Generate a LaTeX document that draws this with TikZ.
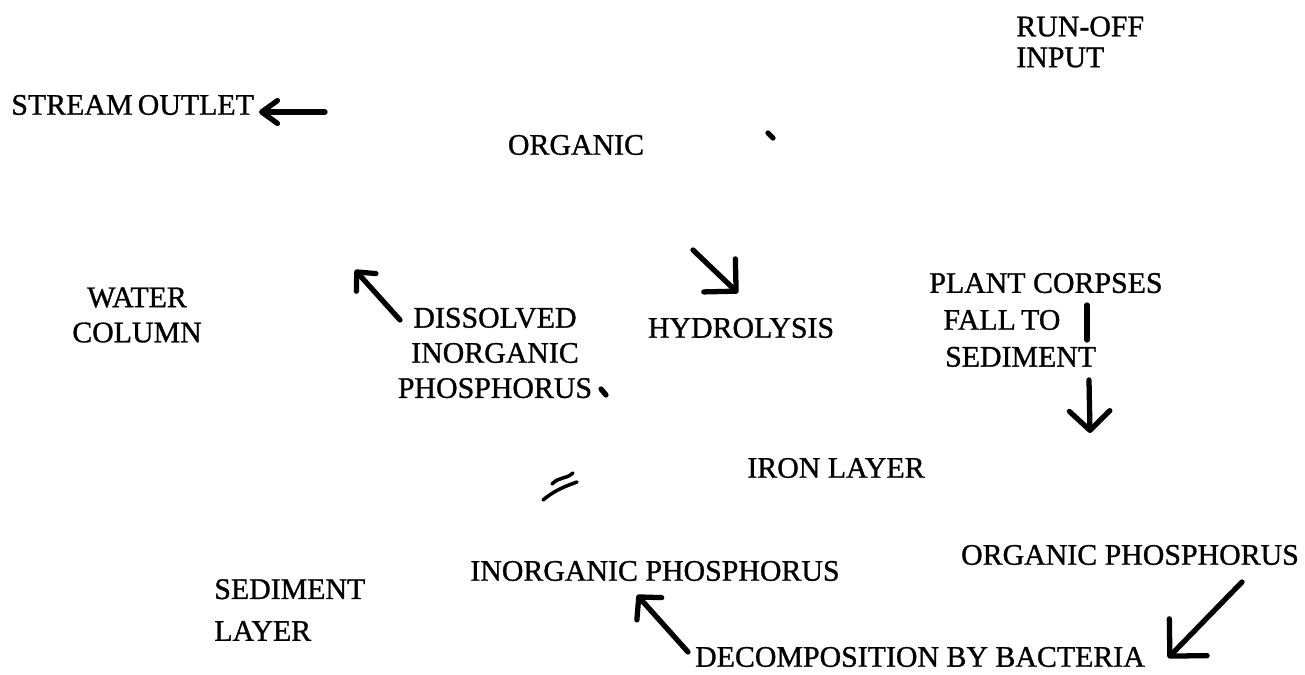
\documentclass[tikz,border=0pt]{standalone}
\usepackage{fontspec}
\setmainfont[FakeBold=1]{Liberation Serif}
\usetikzlibrary{arrows.meta}

\begin{document}
\begin{tikzpicture}[x=0.02cm,y=-0.02cm,
    lbl/.style={font=\fontsize{17}{20}\selectfont,inner sep=0pt},
    arr/.style={line width=3pt,line cap=round,line join=round},
    barb/.style 2 args={-{Straight Barb[length=#1,width=#2,round]}},
    scribble/.style={line width=2pt,line cap=round}]
  \useasboundingbox (0,0) rectangle (1305,675);
  % labels
  \node[lbl,font=\fontsize{17}{17.6}\selectfont,align=left,anchor=west] (runoff) at (1016,42) {RUN-OFF\\INPUT};
  \node[lbl,anchor=west] (outlet) at (11,105) {STREAM\hspace{3pt}OUTLET};
  \node[lbl] (organic) at (576,145) {ORGANIC};
  \node[lbl,align=center] (water) at (137,315) {WATER\\COLUMN};
  \node[lbl,align=center] (dip) at (495,353) {DISSOLVED\\INORGANIC\\PHOSPHORUS};
  \node[lbl] (hydro) at (741,328) {HYDROLYSIS};
  \node[lbl,font=\fontsize{17}{21}\selectfont,align=left,anchor=west] (plant) at (929,320) {PLANT CORPSES\\\hspace*{8pt}FALL\hspace{3pt}TO\\\hspace*{9pt}SEDIMENT};
  \node[lbl] (iron) at (836,468) {IRON LAYER};
  \node[lbl] (orgphos) at (1130,555) {ORGANIC PHOSPHORUS};
  \node[lbl] (inorgphos) at (655,571) {INORGANIC PHOSPHORUS};
  \node[lbl,font=\fontsize{17}{23.8}\selectfont,align=left,anchor=west] (sediment) at (214,610) {SEDIMENT\\LAYER};
  \node[lbl] (decomp) at (920,657) {DECOMPOSITION BY BACTERIA};
  % arrow ends
  \coordinate (outlet-a) at (325,112);
  \coordinate (outlet-b) at (259,112);
  \coordinate (hydro-a) at (693,250);
  \coordinate (hydro-b) at (738,293);
  \coordinate (dip-a) at (400,320);
  \coordinate (dip-b) at (355,270);
  \coordinate (bar-a) at (1087,305);
  \coordinate (bar-b) at (1087,340);
  \coordinate (fall-a) at (1089,380);
  \coordinate (fall-b) at (1090,433);
  \coordinate (decomp-a) at (688,652);
  \coordinate (decomp-b) at (637,595);
  \coordinate (orgphos-a) at (1242,582);
  \coordinate (orgphos-b) at (1168,658);
  % arrows
  \draw[arr,barb={9pt}{13pt}] (outlet-a) -- (outlet-b);
  \draw[arr,barb={13pt}{26pt}] (hydro-a) -- (hydro-b);
  \draw[arr,barb={8pt}{15pt}] (dip-a) -- (dip-b);
  \draw[arr] (bar-a) -- (bar-b);
  \draw[arr,barb={11pt}{23pt}] (fall-a) -- (fall-b);
  \draw[arr,barb={9pt}{19pt}] (decomp-a) -- (decomp-b);
  \draw[arr,barb={15pt}{30pt}] (orgphos-a) -- (orgphos-b);
  % stray pen marks
  \draw[scribble,line width=3pt] (768,133) -- (773,138);
  \draw[scribble,line width=3pt] (601,389) -- (606,395);
  \draw[scribble] (552,484) .. controls (560,476) and (565,480) .. (573,473);
  \draw[scribble] (543,500) .. controls (555,490) and (566,486) .. (577,482);
\end{tikzpicture}
\end{document}
